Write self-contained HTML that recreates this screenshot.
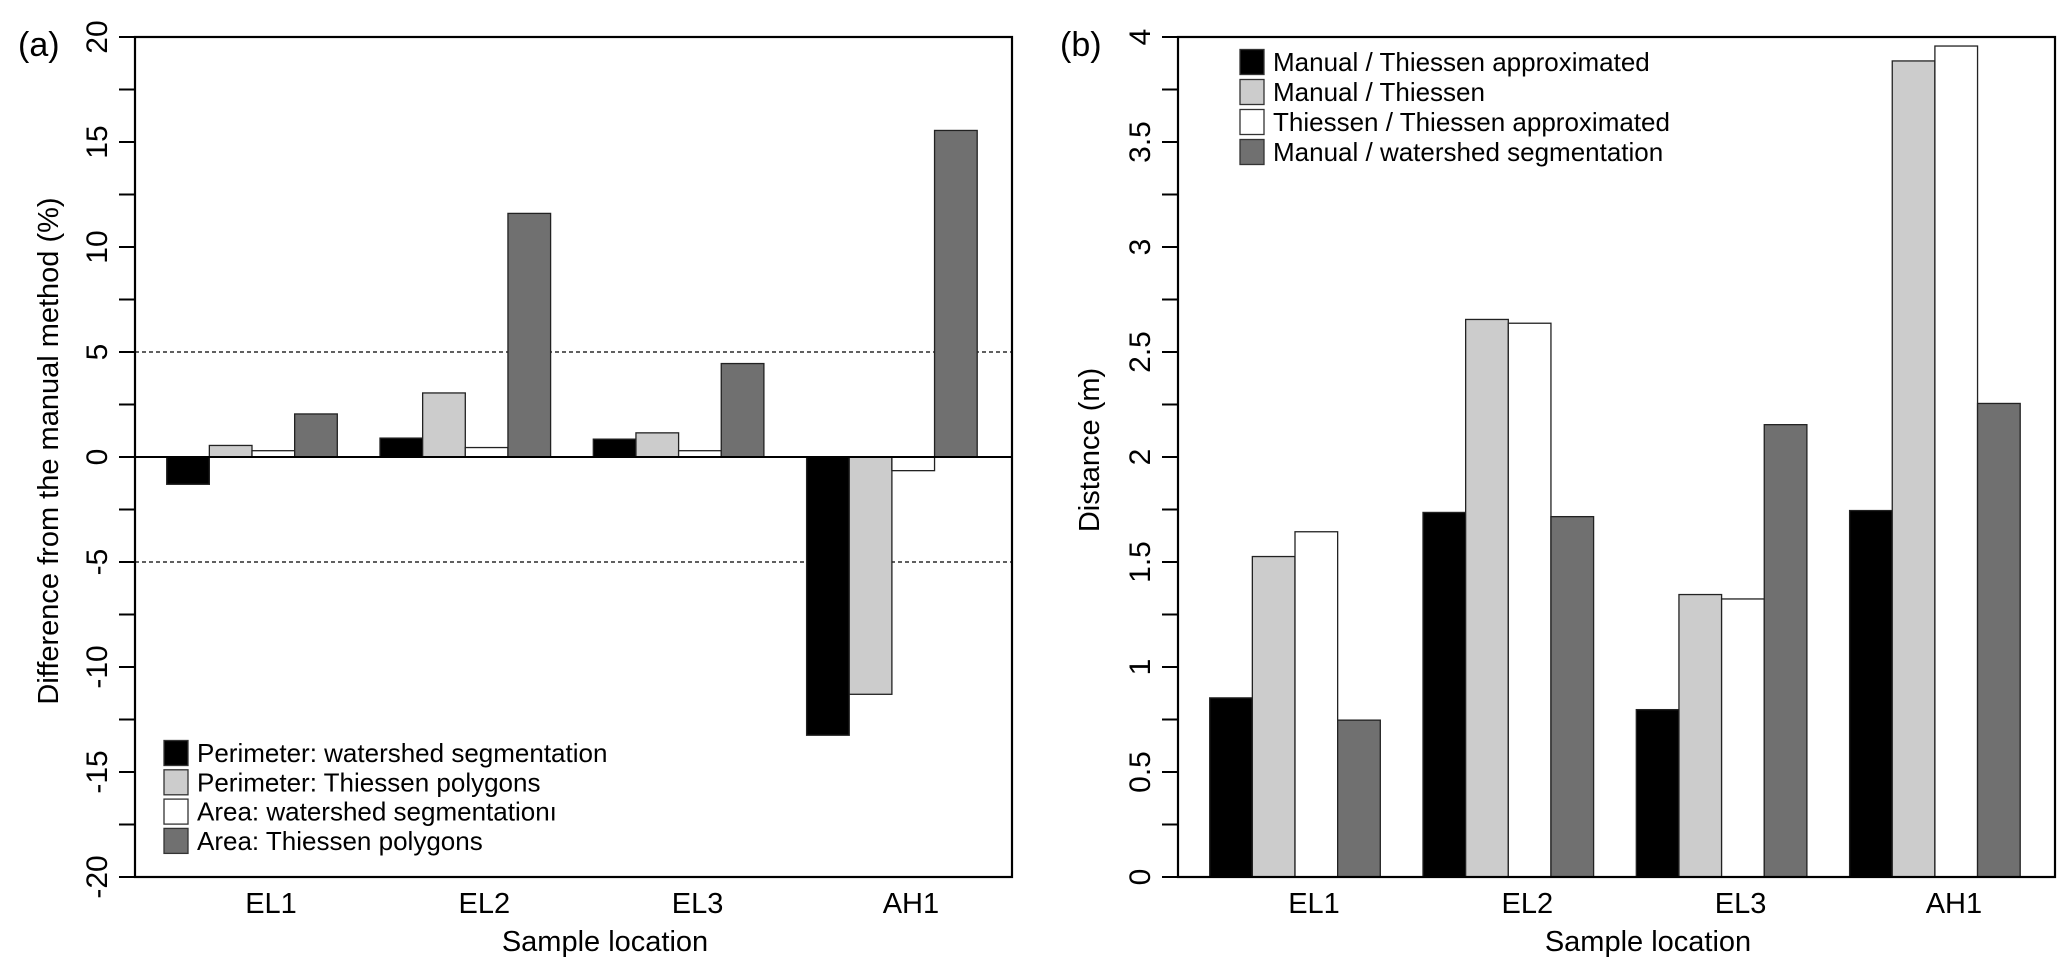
<!DOCTYPE html>
<html><head><meta charset="utf-8"><style>
html,body{margin:0;padding:0;background:#fff;}
svg{display:block;font-family:"Liberation Sans",Arial,sans-serif;}
</style></head><body>
<svg id="fig" width="2067" height="976" viewBox="0 0 2067 976"></svg>
<script>
const categories = ["EL1","EL2","EL3","AH1"];
const aSeriesNames = ["Perimeter: watershed segmentation","Perimeter: Thiessen polygons","Area: watershed segmentation\u0131","Area: Thiessen polygons"];
const aPerimWatershed = [-1.3, 0.9, 0.85, -13.25];
const aPerimThiessen = [0.55, 3.05, 1.15, -11.3];
const aAreaWatershed = [0.3, 0.45, 0.3, -0.65];
const aAreaThiessen = [2.05, 11.6, 4.45, 15.55];
const aTicks = [-20,-15,-10,-5,0,5,10,15,20];
const bSeriesNames = ["Manual / Thiessen approximated","Manual / Thiessen","Thiessen / Thiessen approximated","Manual / watershed segmentation"];
const bManualApprox = [0.853, 1.736, 0.797, 1.745];
const bManualThiessen = [1.526, 2.655, 1.345, 3.886];
const bThiessenApprox = [1.644, 2.637, 1.324, 3.957];
const bManualWatershed = [0.747, 1.716, 2.154, 2.255];
const bTicks = ["0","0.5","1","1.5","2","2.5","3","3.5","4"];
const fills = ["#000000","#cccccc","#ffffff","#707070"];

const NS="http://www.w3.org/2000/svg";
const svg=document.getElementById('fig');
function mk(tag,attrs,parent,text){const e=document.createElementNS(NS,tag);for(const k in attrs)e.setAttribute(k,attrs[k]);if(text!==undefined)e.textContent=text;(parent||svg).appendChild(e);return e;}

function panel(cfg){
  const g=mk('g',{});
  
  
  const L=cfg.left,R=L+877,T=37,B=877;
  const y=v=>B-(v-cfg.min)/(cfg.max-cfg.min)*(B-T);
  const u=42.65, step=213.3, start=L+31.7;
  (cfg.dashed||[]).forEach(d=>{const l=mk('line',{x1:L,x2:R,y1:y(d),y2:y(d),stroke:'#000','stroke-width':1.3,'stroke-dasharray':'4,3'},g);
    });
  cfg.series.forEach((s,si)=>{s.forEach((v,ci)=>{
    const x=start+ci*step+si*u;
    const y0=y(0),y1=y(v);
    const r=mk('rect',{x:x,y:Math.min(y0,y1),width:u,height:Math.max(Math.abs(y1-y0),0.5),fill:fills[si],stroke:'#222','stroke-width':1.3},g);
    
    
  });});
  if(cfg.zeroLine){const z=mk('line',{x1:L,x2:R,y1:y(0),y2:y(0),stroke:'#000','stroke-width':2},g);}
  const f=mk('rect',{x:L,y:T,width:R-L,height:B-T,fill:'none',stroke:'#000','stroke-width':2.2},g);
  
  const ax=mk('g',{},g);
  const nMinor=(cfg.ticks.length-1)*2;
  for(let i=0;i<=nMinor;i++){const v=cfg.min+(cfg.max-cfg.min)*i/nMinor;mk('line',{x1:L-16,x2:L,y1:y(v),y2:y(v),stroke:'#000','stroke-width':2},ax);}
  cfg.ticks.forEach(t=>{const yy=y(+t);const tx=mk('text',{x:0,y:0,'font-size':30,'text-anchor':'middle',transform:`translate(${L-28},${yy}) rotate(-90)`},ax,String(t));
    });
  categories.forEach((c,ci)=>{const tx=mk('text',{x:start+ci*step+2*u+19,y:913,'font-size':29,'text-anchor':'middle'},g,c);
    });
  const xt=mk('text',{x:L+470,y:951,'font-size':29,'text-anchor':'middle'},g,'Sample location');
  
  const yt=mk('text',{x:0,y:0,'font-size':cfg.ytSize,'text-anchor':'middle',transform:`translate(${cfg.ytx},${cfg.yty}) rotate(-90)`},g,cfg.ytitle);
  
  const pl=mk('text',{x:cfg.plx,y:56,'font-size':34},g,cfg.plabel);
  
  const lg=mk('g',{},g);
  cfg.legendNames.forEach((n,i)=>{const cy=cfg.lgY+i*cfg.lgStep;
    const e=mk('g',{},lg);
    mk('rect',{x:cfg.lgX,y:cy-12.5,width:24,height:25,fill:fills[i],stroke:'#333','stroke-width':1.3},e);
    mk('text',{x:cfg.lgX+33,y:cy+9,'font-size':26},e,n);});
}
panel({name:'panel-a-difference',left:135,min:-20,max:20,ticks:aTicks,dashed:[5,-5],zeroLine:true,
  series:[aPerimWatershed,aPerimThiessen,aAreaWatershed,aAreaThiessen],ytitle:'Difference from the manual method (%)',ytx:58,yty:451,ytSize:29,plabel:'(a)',plx:18,
  legendNames:aSeriesNames,lgX:164,lgY:753,lgStep:29.3});
panel({name:'panel-b-distance',left:1178,min:0,max:4,ticks:bTicks,dashed:[],zeroLine:false,
  series:[bManualApprox,bManualThiessen,bThiessenApprox,bManualWatershed],ytitle:'Distance (m)',ytx:1099,yty:450,ytSize:29,plabel:'(b)',plx:1060,
  legendNames:bSeriesNames,lgX:1240,lgY:62,lgStep:30});
</script>
</body></html>
